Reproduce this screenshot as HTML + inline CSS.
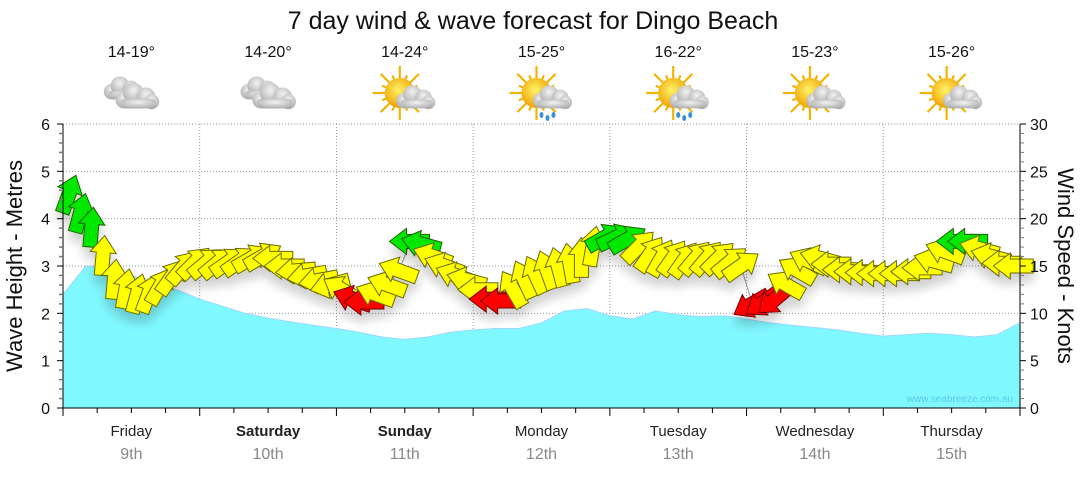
<!DOCTYPE html>
<html><head><meta charset="utf-8"><style>
body{margin:0;background:#fff;font-family:"Liberation Sans","DejaVu Sans",sans-serif}
svg text{font-family:"Liberation Sans","DejaVu Sans",sans-serif}
</style></head><body>
<svg id="chart" width="1080" height="475" viewBox="0 0 1080 475" xmlns="http://www.w3.org/2000/svg">
<defs>
<filter id="sh" x="-50%" y="-50%" width="200%" height="250%"><feGaussianBlur in="SourceAlpha" stdDeviation="5"/><feOffset dy="9"/><feComponentTransfer><feFuncA type="linear" slope="0.18"/></feComponentTransfer><feMerge><feMergeNode/><feMergeNode in="SourceGraphic"/></feMerge></filter>
<radialGradient id="cg" cx="50%" cy="35%" r="70%"><stop offset="0" stop-color="#f2f2f2"/><stop offset="1" stop-color="#a9a9a9"/></radialGradient>
<radialGradient id="sg" cx="45%" cy="40%" r="60%"><stop offset="0" stop-color="#fff36a"/><stop offset="1" stop-color="#f0a000"/></radialGradient>
</defs>
<text x="533" y="29" font-size="25" text-anchor="middle" fill="#111">7 day wind &amp; wave forecast for Dingo Beach</text>
<g id="grid"></g>
<g id="wave"></g>
<g id="wind"></g>
<g id="axes"></g>
<g id="icons"></g>
<text transform="translate(22,266) rotate(-90)" font-size="22" text-anchor="middle" fill="#111">Wave Height - Metres</text>
<text transform="translate(1058,266) rotate(90)" font-size="22" text-anchor="middle" fill="#111">Wind Speed - Knots</text>
<text x="1013" y="402" font-size="10" text-anchor="end" fill="#5cc9e6">www.seabreeze.com.au</text>
</svg>
<script>
const days=["Friday","Saturday","Sunday","Monday","Tuesday","Wednesday","Thursday"];
const dates=["9th","10th","11th","12th","13th","14th","15th"];
const boldDays=[false,true,true,false,false,false,false];
const temps=["14-19°","14-20°","14-24°","15-25°","16-22°","15-23°","15-26°"];
const icons=["cloud","cloud","sun","rain","rain","sun","sun"];
const waveTicks=[0,1,2,3,4,5,6];
const windTicks=[0,5,10,15,20,25,30];
// wave height every 4 hours
const waveHeights=[2.4,3.0,2.95,2.8,2.65,2.5,2.3,2.15,2.0,1.9,1.82,1.75,1.68,1.6,1.5,1.45,1.5,1.6,1.65,1.68,1.68,1.8,2.05,2.1,1.95,1.88,2.05,1.97,1.93,1.95,1.88,1.8,1.75,1.7,1.65,1.58,1.52,1.55,1.58,1.55,1.5,1.55,1.8];
// wind every 2 hours
const windSpeeds=[22.5,20.5,19,16,13.5,12.5,12,12,12.8,13.8,14.8,15.3,
15.3,15.3,15.4,15.5,15.8,16,15.8,15,14.5,14,13.5,13,
12.5,11.5,11.2,12,13,14.5,17.6,17.3,16,15,14,13.5,
12.5,11.5,11.3,12.5,13.5,14,14.5,14.8,15.2,15.8,17,18,
18,17.8,17,16.2,15.8,15.8,15.6,15.8,15.8,15.8,15.4,15,
11,11.2,11.5,13,14.5,15.5,15.8,15.2,14.6,14.4,14.3,14.2,
14.2,14.2,14.4,14.8,15.5,16.5,17.6,17.6,16.8,16,15.3,15];
const windDirs=[-70,-75,-85,-85,-85,-80,-75,-70,-60,-55,-50,-45,
-40,-40,-35,-35,-30,-30,180,180,175,170,170,165,
-150,-160,180,-160,-160,-160,180,-165,-160,-160,-160,-165,
180,180,180,-120,-115,-115,-110,-105,-100,-90,-80,-30,
-25,-30,-45,-55,-60,-55,-55,-50,-50,-45,-40,-35,
150,145,140,-150,-150,-155,-165,180,180,180,180,180,
180,180,180,180,-165,-160,180,180,-165,-165,180,180];

const NS="http://www.w3.org/2000/svg";
const X0=63,X1=1020,Y0=408,Y1=124,DW=(X1-X0)/7;
const xHour=h=>X0+h/(24*7)*(X1-X0);
const yWave=m=>Y0-(m/6)*(Y0-Y1);
const yWind=k=>Y0-(k/30)*(Y0-Y1);
function el(tag,attrs,parent,txt){const e=document.createElementNS(NS,tag);for(const k in attrs)e.setAttribute(k,attrs[k]);if(txt!==undefined)e.textContent=txt;parent.appendChild(e);return e;}
const grid=document.getElementById('grid'),axes=document.getElementById('axes');
for(let d=1;d<7;d++){const l=el('line',{x1:X0+d*DW,x2:X0+d*DW,y1:Y1,y2:Y0,stroke:'#999','stroke-dasharray':'1,2'},grid);

}
waveTicks.forEach(t=>{if(t>0){const l=el('line',{x1:X0,x2:X1,y1:yWave(t),y2:yWave(t),stroke:'#999','stroke-dasharray':'1,2'},grid);

}});
const wg=document.getElementById('wave');
let d='M'+X0+','+Y0;
waveHeights.forEach((v,i)=>{d+=' L'+xHour(i*4).toFixed(1)+','+yWave(v).toFixed(1);});
d+=' L'+X1+','+Y0+' Z';
const wa=el('path',{d:d,fill:'#80f8ff',stroke:'#a0d8ff','stroke-width':1},wg);


const wd=document.getElementById('wind');
const pts=windSpeeds.map((s,i)=>[xHour(i*2+1),yWind(s)]);
const pl=el('polyline',{points:pts.map(p=>p[0].toFixed(1)+','+p[1].toFixed(1)).join(' '),fill:'none',stroke:'#999','stroke-width':1},wd);


const ag=el('g',{filter:'url(#sh)'},wd);
windSpeeds.forEach((s,i)=>{
 const [x,y]=pts[i];
 let fill='#ffff00',st='#6b6b00';
 if(s>=17.2){fill='#00e800';st='#206000';}
 else if(s<11.8){fill='#ff0000';st='#700000';}
 const a=el('polygon',{points:'21,0 4,-13 4,-7 -19,-7 -19,7 4,7 4,13',fill:fill,stroke:st,'stroke-width':1,transform:`translate(${x.toFixed(1)},${y.toFixed(1)}) rotate(${windDirs[i]})`},ag);
 
 
});
el('line',{x1:X0,x2:X0,y1:Y1,y2:Y0+6,stroke:'#000'},axes);
el('line',{x1:X1,x2:X1,y1:Y1,y2:Y0+6,stroke:'#000'},axes);
el('line',{x1:X0,x2:X1,y1:Y0,y2:Y0,stroke:'#000'},axes);
for(let i=0;i<=30;i++){const y=yWave(i*0.2);el('line',{x1:X0-(i%5?4:6),x2:X0,y1:y,y2:y,stroke:i%5?'#777':'#000','stroke-width':i%5?1.5:1},axes);}
for(let i=0;i<=30;i++){const y=yWind(i);el('line',{x1:X1,x2:X1+(i%5?4:6),y1:y,y2:y,stroke:i%5?'#777':'#000'},axes);}
waveTicks.forEach(t=>{const e=el('text',{x:X0-13,y:yWave(t)+6,'font-size':16,'text-anchor':'end',fill:'#111'},axes,String(t));

});
windTicks.forEach(t=>{const e=el('text',{x:X1+10,y:yWind(t)+6,'font-size':16,fill:'#111'},axes,String(t));

});
for(let h=0;h<=168;h+=6){const x=xHour(h);el('line',{x1:x,x2:x,y1:Y0,y2:Y0+(h%24?5:8),stroke:'#000'},axes);}
days.forEach((n,i)=>{const cx=X0+(i+0.5)*DW;
const t=el('text',{x:cx,y:436,'font-size':15,'text-anchor':'middle',fill:'#222','font-weight':boldDays[i]?'bold':'normal'},axes,n);


const t2=el('text',{x:cx,y:459,'font-size':16,'text-anchor':'middle',fill:'#888'},axes,dates[i]);


const t3=el('text',{x:cx,y:57,'font-size':16,'text-anchor':'middle',fill:'#111'},axes,temps[i]);

});
const ic=document.getElementById('icons');
function cloud(g,x,y,s){[[-14,2,9],[-4,-5,11],[9,-1,10],[15,4,8]].forEach(c=>el('circle',{cx:x+c[0]*s,cy:y+c[1]*s,r:c[2]*s,fill:'url(#cg)'},g));el('rect',{x:x-18*s,y:y+1*s,width:38*s,height:10*s,rx:5*s,fill:'url(#cg)'},g);}
icons.forEach((k,i)=>{const cx=X0+(i+0.5)*DW;const g=el('g',{},ic);


if(k==='cloud'){cloud(g,cx-8,90,0.85);cloud(g,cx+6,98,0.95);}
else{const sx=cx-5,sy=93;for(let a=0;a<360;a+=22.5){const r=a*Math.PI/180;el('line',{x1:sx+Math.cos(r)*12,y1:sy+Math.sin(r)*12,x2:sx+Math.cos(r)*(a%45?19:27),y2:sy+Math.sin(r)*(a%45?19:27),stroke:'#f2b400','stroke-width':2.2},g);}
el('circle',{cx:sx,cy:sy,r:15,fill:'url(#sg)'},g);cloud(g,cx+11,99,0.85);
if(k==='rain'){[[0,115],[6,118],[12,115]].forEach(p=>el('ellipse',{cx:cx+p[0],cy:p[1],rx:2,ry:3,fill:'#3a8fd8'},g));}}});
</script>
</body></html>
